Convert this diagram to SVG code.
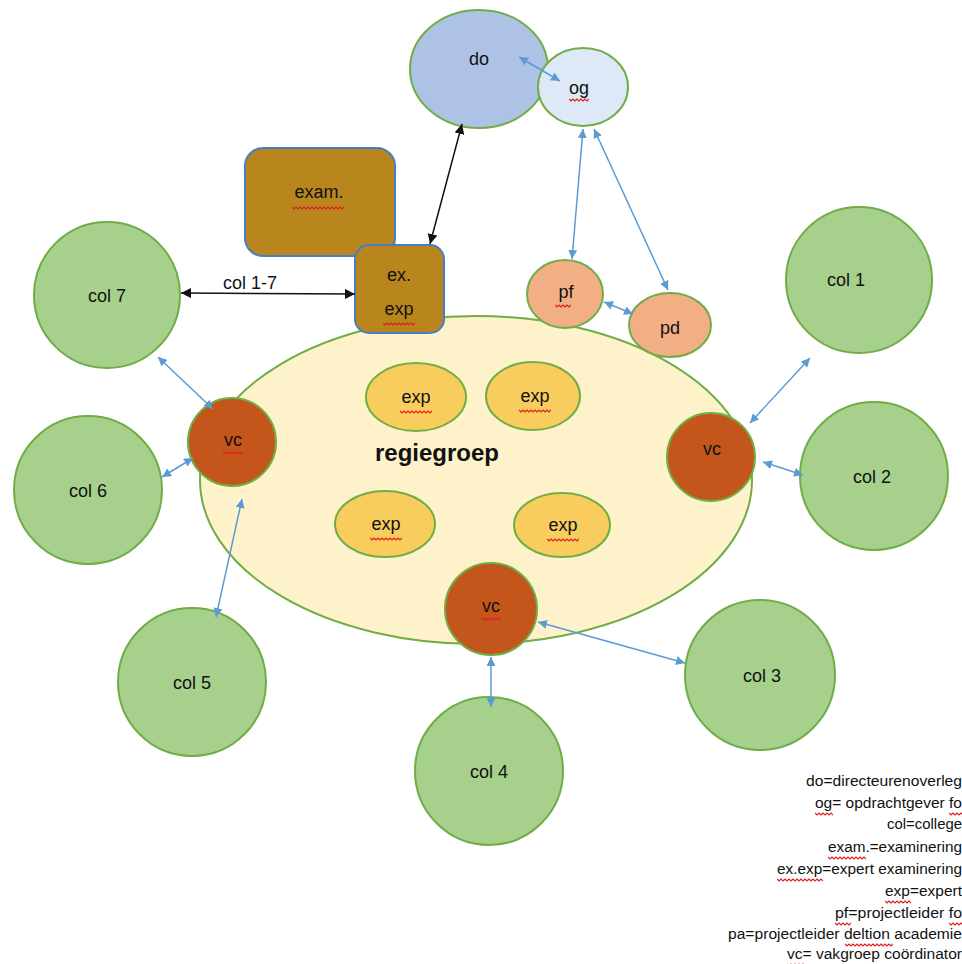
<svg xmlns="http://www.w3.org/2000/svg" width="962" height="964" viewBox="0 0 962 964">
<defs>
<style>
.lbl{font-family:"Liberation Sans",Arial,sans-serif;font-size:18px;fill:#111;text-anchor:middle}
.leg{font-family:"Liberation Sans",Arial,sans-serif;font-size:14px;fill:#111;text-anchor:end}
.col{fill:#a6d08c;stroke:#70ad47;stroke-width:2}
.vc{fill:#c4561b;stroke:#70ad47;stroke-width:2}
.exp{fill:#f8cd5e;stroke:#70ad47;stroke-width:2}
.pp{fill:#f2ae84;stroke:#70ad47;stroke-width:2}
.box{fill:#b8861d;stroke:#4a7cc4;stroke-width:2}
.blue{stroke:#5b9bd5;stroke-width:1.5;fill:none;marker-start:url(#ba);marker-end:url(#ba)}
.black{stroke:#111;stroke-width:1.5;fill:none;marker-start:url(#ka);marker-end:url(#ka)}
.sq{stroke:#e02020;stroke-width:1.2;fill:none}
</style>
<marker id="ba" viewBox="0 0 10 10" refX="10" refY="5" markerWidth="9" markerHeight="9" markerUnits="userSpaceOnUse" orient="auto-start-reverse"><path d="M0,0L10,5L0,10z" fill="#5b9bd5"/></marker>
<marker id="ka" viewBox="0 0 10 10" refX="10" refY="5" markerWidth="10" markerHeight="10" markerUnits="userSpaceOnUse" orient="auto-start-reverse"><path d="M0,0L10,5L0,10z" fill="#111"/></marker>
<path id="w" d="M0,0l2,2l2,-2l2,2l2,-2l2,2l2,-2l2,2l2,-2l2,2l2,-2l2,2l2,-2l2,2l2,-2l2,2l2,-2l2,2l2,-2l2,2l2,-2l2,2l2,-2l2,2l2,-2l2,2l2,-2l2,2l2,-2l2,2l2,-2" class="sq"/>
</defs>

<g id="regiegroep">
<ellipse cx="476" cy="480" rx="276" ry="164" fill="#fdf2c9" stroke="#70ad47" stroke-width="2"/>
<text x="437" y="461" style="font-family:'Liberation Sans',Arial,sans-serif;font-size:24px;font-weight:bold;text-anchor:middle;fill:#111">regiegroep</text>
</g>

<g id="do">
<ellipse cx="479" cy="69" rx="69" ry="59" fill="#aec2e5" stroke="#70ad47" stroke-width="2"/>
<text class="lbl" x="479" y="65">do</text>
</g>
<g id="og">
<ellipse cx="583" cy="87" rx="45" ry="39" fill="#dde9f6" stroke="#70ad47" stroke-width="2"/>
<text class="lbl" x="579" y="94">og</text>
<svg x="569" y="96" width="20" height="6" viewBox="0 -3 20 6" overflow="hidden"><use href="#w"/></svg>
</g>

<g id="exam">
<rect class="box" x="245" y="148" width="150" height="108" rx="18"/>
<text class="lbl" x="319" y="198">exam.</text>
<svg x="292" y="204" width="52" height="6" viewBox="0 -3 52 6" overflow="hidden"><use href="#w"/></svg>
</g>

<g id="pf">
<ellipse class="pp" cx="565" cy="294" rx="38" ry="34"/>
<text class="lbl" x="566" y="298">pf</text>
<svg x="555" y="302" width="16" height="6" viewBox="0 -3 16 6" overflow="hidden"><use href="#w"/></svg>
</g>
<g id="pd">
<ellipse class="pp" cx="670" cy="325" rx="41" ry="32"/>
<text class="lbl" x="670" y="334">pd</text>
</g>

<g id="exexp">
<rect class="box" x="355" y="245" width="89" height="88" rx="14"/>
<text class="lbl" x="399" y="281">ex.</text>
<text class="lbl" x="399" y="315">exp</text>
<svg x="383" y="320" width="32" height="6" viewBox="0 -3 32 6" overflow="hidden"><use href="#w"/></svg>
</g>

<g id="exp1">
<ellipse class="exp" cx="416" cy="397" rx="50" ry="34"/>
<text class="lbl" x="416" y="403">exp</text>
<svg x="400" y="408" width="32" height="6" viewBox="0 -3 32 6" overflow="hidden"><use href="#w"/></svg>
</g>
<g id="exp2">
<ellipse class="exp" cx="533" cy="396" rx="47" ry="34"/>
<text class="lbl" x="535" y="402">exp</text>
<svg x="519" y="407" width="32" height="6" viewBox="0 -3 32 6" overflow="hidden"><use href="#w"/></svg>
</g>
<g id="exp3">
<ellipse class="exp" cx="385" cy="524" rx="50" ry="33"/>
<text class="lbl" x="386" y="530">exp</text>
<svg x="370" y="535" width="32" height="6" viewBox="0 -3 32 6" overflow="hidden"><use href="#w"/></svg>
</g>
<g id="exp4">
<ellipse class="exp" cx="562" cy="525" rx="48" ry="32"/>
<text class="lbl" x="563" y="531">exp</text>
<svg x="547" y="536" width="32" height="6" viewBox="0 -3 32 6" overflow="hidden"><use href="#w"/></svg>
</g>

<g id="vc-left">
<circle class="vc" cx="232" cy="442" r="44"/>
<text class="lbl" x="233" y="446">vc</text>
<svg x="223" y="449" width="20" height="6" viewBox="0 -3 20 6" overflow="hidden"><use href="#w"/></svg>
</g>
<g id="vc-right">
<circle class="vc" cx="711" cy="457" r="44"/>
<text class="lbl" x="712" y="455">vc</text>
</g>
<g id="vc-bottom">
<circle class="vc" cx="491" cy="609" r="46"/>
<text class="lbl" x="491" y="612">vc</text>
<svg x="481" y="615" width="20" height="6" viewBox="0 -3 20 6" overflow="hidden"><use href="#w"/></svg>
</g>

<g id="col7"><circle class="col" cx="107" cy="295" r="73"/><text class="lbl" x="107" y="302">col 7</text></g>
<g id="col6"><circle class="col" cx="88" cy="490" r="74"/><text class="lbl" x="88" y="497">col 6</text></g>
<g id="col5"><circle class="col" cx="192" cy="682" r="74"/><text class="lbl" x="192" y="689">col 5</text></g>
<g id="col4"><circle class="col" cx="489" cy="771" r="74"/><text class="lbl" x="489" y="778">col 4</text></g>
<g id="col3"><circle class="col" cx="760" cy="675" r="75"/><text class="lbl" x="762" y="682">col 3</text></g>
<g id="col2"><circle class="col" cx="874" cy="476" r="74"/><text class="lbl" x="872" y="483">col 2</text></g>
<g id="col1"><circle class="col" cx="859" cy="280" r="73"/><text class="lbl" x="846" y="286">col 1</text></g>

<g id="connectors">
<line class="blue" x1="519" y1="57" x2="560" y2="81"/>
<line class="blue" x1="583" y1="129" x2="572" y2="259"/>
<line class="blue" x1="594" y1="129" x2="668" y2="290"/>
<line class="blue" x1="604" y1="302" x2="633" y2="314"/>
<line class="black" x1="462" y1="124" x2="430" y2="244"/>
<line class="black" x1="181" y1="293" x2="355" y2="294"/>
<line class="blue" x1="158" y1="357" x2="213" y2="409"/>
<line class="blue" x1="162" y1="477" x2="193" y2="458"/>
<line class="blue" x1="242" y1="499" x2="216" y2="617"/>
<line class="blue" x1="810" y1="358" x2="750" y2="423"/>
<line class="blue" x1="763" y1="462" x2="803" y2="475"/>
<line class="blue" x1="538" y1="622" x2="685" y2="663"/>
<line class="blue" x1="491" y1="657" x2="491" y2="707"/>
<text x="250" y="289" style="font-family:'Liberation Sans',Arial,sans-serif;font-size:18px;fill:#111;text-anchor:middle">col 1-7</text>
</g>

<g id="legend">
<text class="leg" x="962" y="786" textLength="156" lengthAdjust="spacingAndGlyphs">do=directeurenoverleg</text>
<text class="leg" x="962" y="808" textLength="147" lengthAdjust="spacingAndGlyphs">og= opdrachtgever fo</text>
<text class="leg" x="962" y="829" textLength="75" lengthAdjust="spacingAndGlyphs">col=college</text>
<text class="leg" x="962" y="852" textLength="134" lengthAdjust="spacingAndGlyphs">exam.=examinering</text>
<text class="leg" x="962" y="874" textLength="185" lengthAdjust="spacingAndGlyphs">ex.exp=expert examinering</text>
<text class="leg" x="962" y="896" textLength="77" lengthAdjust="spacingAndGlyphs">exp=expert</text>
<text class="leg" x="962" y="918" textLength="127" lengthAdjust="spacingAndGlyphs">pf=projectleider fo</text>
<text class="leg" x="962" y="939" textLength="234" lengthAdjust="spacingAndGlyphs">pa=projectleider deltion academie</text>
<text class="leg" x="962" y="959" textLength="175" lengthAdjust="spacingAndGlyphs">vc= vakgroep coördinator</text>
<svg x="815" y="810" width="18" height="6" viewBox="0 -3 18 6" overflow="hidden"><use href="#w"/></svg>
<svg x="949" y="810" width="13" height="6" viewBox="0 -3 13 6" overflow="hidden"><use href="#w"/></svg>
<svg x="828" y="854" width="38" height="6" viewBox="0 -3 38 6" overflow="hidden"><use href="#w"/></svg>
<svg x="777" y="876" width="46" height="6" viewBox="0 -3 46 6" overflow="hidden"><use href="#w"/></svg>
<svg x="885" y="898" width="26" height="6" viewBox="0 -3 26 6" overflow="hidden"><use href="#w"/></svg>
<svg x="835" y="920" width="16" height="6" viewBox="0 -3 16 6" overflow="hidden"><use href="#w"/></svg>
<svg x="949" y="920" width="13" height="6" viewBox="0 -3 13 6" overflow="hidden"><use href="#w"/></svg>
<svg x="845" y="941" width="48" height="6" viewBox="0 -3 48 6" overflow="hidden"><use href="#w"/></svg>
<svg x="787" y="961" width="18" height="6" viewBox="0 -3 18 6" overflow="hidden"><use href="#w"/></svg>
</g>
</svg>
